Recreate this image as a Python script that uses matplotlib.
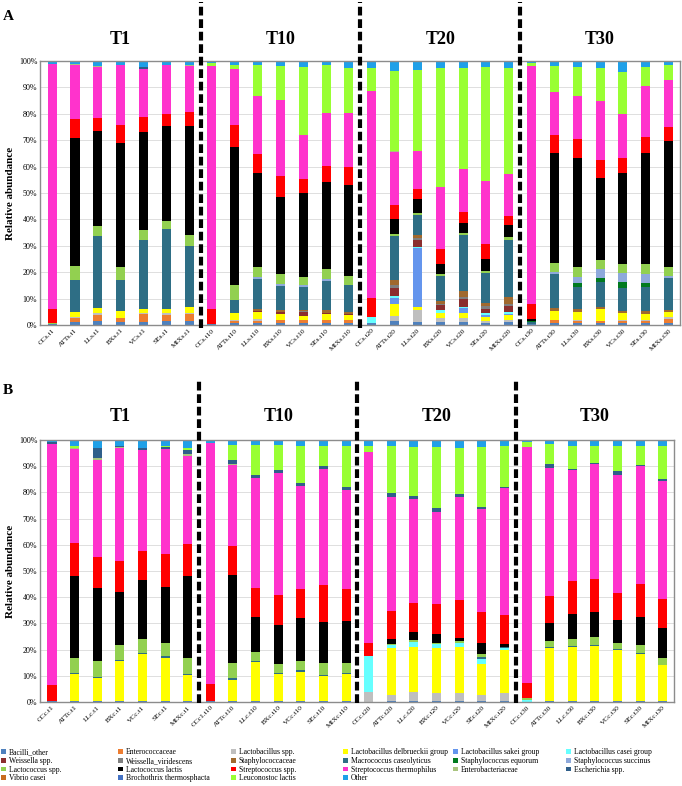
"""
stacked bar charts of relative abundance of bacterial taxa
panel A and panel B, four sampling times each (T1, T10, T20, T30)
"""

import numpy as np
import matplotlib.pyplot as plt
from matplotlib.patches import Patch
import matplotlib.transforms as mtransforms

plt.rcParams["font.family"] = ["Liberation Serif", "DejaVu Serif"]

samples = ["CC", "ATT", "LL", "BX", "VC", "SE", "MIX"]
times = ["t1", "t10", "t20", "t30"]
time_titles = ["T1", "T10", "T20", "T30"]
labels_a = [s + "s." + t for t in times for s in samples]
labels_b = [s + "c." + t for t in times for s in samples]
labels_b[7] = "CCc1.t10"

taxa = ["Bacilli_other", "Enterococcaceae", "Lactobacillus spp.",
        "Lactobacillus delbrueckii group", "Lactobacillus sakei group",
        "Lactobacillus casei group", "Weissella spp.", "Weissella_viridescens",
        "Staphylococcaceae", "Macrococcus caseolyticus", "Staphylococcus equorum",
        "Staphylococcus succinus", "Lactococcus spp.", "Lactococcus lactis",
        "Streptococcus spp.", "Streptococcus thermophilus", "Enterobacteriaceae",
        "Escherichia spp.", "Vibrio casei", "Brochothrix thermosphacta",
        "Leuconostoc lactis", "Other"]

colors = ["#4F81BD", "#ED7D31", "#BFBFBF", "#FFFF00", "#6495ED", "#66FFFF",
          "#8B2E2E", "#7F7F7F", "#A0692E", "#2E6E85", "#007A1F", "#8EA9DB",
          "#92D050", "#000000", "#FF0000", "#FF33CC", "#A9C47F", "#2F5F8A",
          "#C86B1E", "#4472C4", "#99FF33", "#1FA0E8"]

# panel A (% per sample, 28 samples: T1 x7, T10 x7, T20 x7, T30 x7)
a_bacilli = [0.3, 1.0, 1.5, 1.0, 1.3, 1.5, 1.6, 0.3, 0.6, 0.8, 0.8, 0.8, 0.8, 0.8,
             0.8, 1.5, 1.1, 1.0, 1.1, 0.8, 1.1, 0.4, 0.8, 0.7, 0.8, 0.8, 0.8, 0.8]
a_entero = [0, 1.7, 2.3, 1.5, 2.7, 2.4, 2.6, 0, 0.9, 0.7, 1.0, 1.0, 1.0, 1.0,
            0, 0, 0, 0, 0, 0, 0, 0, 1.0, 0.8, 0.8, 0.8, 0.9, 1.5]
a_lbspp = [0, 0.3, 0.6, 0.3, 0.4, 0.5, 0.2, 0, 0.3, 0.7, 0.2, 0.2, 0.2, 0.2,
           0, 2.0, 4.6, 1.8, 1.7, 0.7, 0.9, 0, 0.2, 0.5, 0, 0.4, 0.3, 0.7]
a_delb = [0, 1.8, 2.1, 2.5, 1.7, 1.8, 2.4, 0, 2.6, 2.6, 2.0, 1.5, 2.0, 1.8,
          0, 4.6, 1.1, 1.6, 1.6, 1.7, 1.8, 0, 3.2, 3.0, 4.5, 2.4, 2.3, 1.8]
a_sakei = [0, 0, 0, 0, 0, 0, 0, 0, 0, 0, 0, 0, 0, 0,
           0, 2.0, 22.2, 0.3, 2.2, 0.5, 0.4, 0, 0, 0, 0, 0, 0, 0]
a_casei = [0, 0, 0, 0, 0, 0, 0, 0, 0, 0, 0, 0, 0, 0,
           2.4, 0.9, 0.6, 1.0, 0.4, 0.8, 0.7, 0, 0, 0, 0, 0, 0, 0]
a_weissella = [0, 0, 0, 0, 0, 0, 0, 0, 0, 0.4, 1.0, 1.3, 0.5, 0.5,
               0, 3.1, 2.5, 1.7, 2.8, 1.6, 2.2, 0, 0, 0, 0, 0, 0, 0]
a_weis_vir = [0, 0, 0, 0, 0, 0, 0, 0, 0, 0, 0, 0.4, 0, 0,
              0, 0.9, 0.9, 0.7, 0.9, 1.2, 1.0, 0, 0, 0, 0, 0, 0, 0]
a_staph = [0, 0, 0, 0, 0, 0, 0, 0, 0, 0.8, 0.6, 0.3, 1.0, 0.7,
           0, 2.0, 1.2, 1.0, 2.2, 1.0, 2.4, 0, 1.3, 1.1, 0.9, 0.8, 0.9, 1.0]
a_macro = [0, 12.2, 27.4, 11.8, 26.1, 30.3, 23.2, 0, 5.2, 11.5, 9.3, 8.9, 11.3, 10.2,
           0, 16.8, 7.5, 9.3, 21.2, 11.3, 21.8, 0.8, 12.8, 8.4, 9.4, 8.8, 9.2, 11.9]
a_equorum = [0, 0, 0, 0, 0, 0, 0, 0, 0, 0, 0, 0, 0, 0,
             0, 0, 0, 0, 0, 0, 0, 0.5, 0, 1.4, 1.3, 2.3, 1.6, 0]
a_succinus = [0, 0, 0, 0, 0, 0, 0, 0, 0, 0.7, 0.6, 0.6, 0.7, 0,
              0, 0, 0, 0, 0, 0, 0, 0, 0.7, 2.4, 3.6, 3.5, 3.3, 0.7]
a_lcspp = [0.4, 5.3, 3.5, 5.0, 3.6, 3.0, 4.1, 0.2, 5.6, 3.6, 3.8, 3.1, 3.7, 3.5,
           0, 0.6, 0.6, 0.8, 0.7, 0.7, 0.9, 0, 3.6, 3.5, 3.4, 3.2, 3.7, 3.7]
a_lactis = [0, 48.4, 36.2, 46.8, 37.2, 36.0, 41.3, 0, 52.4, 35.9, 29.3, 32.0, 32.8, 34.3,
            0, 5.8, 5.3, 3.9, 3.8, 4.8, 4.6, 0.4, 41.4, 41.5, 31.1, 34.7, 42.3, 47.5]
a_strep = [5.3, 7.2, 4.8, 6.8, 5.6, 4.4, 5.2, 5.7, 8.3, 7.2, 8.0, 5.3, 6.2, 7.0,
           6.9, 5.1, 3.8, 5.7, 4.1, 5.7, 3.5, 5.9, 6.8, 7.0, 6.7, 5.7, 6.0, 5.5]
a_thermo = [93.0, 20.6, 19.2, 22.6, 18.2, 18.5, 17.6, 92.0, 21.1, 22.0, 28.8, 16.7, 20.1, 20.4,
            78.4, 20.1, 14.5, 23.6, 16.3, 23.7, 15.8, 90.2, 16.6, 16.6, 22.5, 16.6, 19.2, 17.7]
a_enterob = [0, 0.5, 0.6, 0.3, 0, 0, 0.4, 0, 0, 0, 0, 0, 0, 0,
             0, 0.4, 0, 0, 0, 0, 0, 0, 0, 0, 0, 0, 0, 0]
a_escher = [0, 0, 0, 0, 0.8, 0, 0, 0, 0, 0, 0, 0, 0, 0,
            0, 0, 0, 0, 0, 0, 0, 0, 0, 0, 0, 0, 0, 0]
a_vibrio = [0, 0, 0, 0, 0, 0, 0, 0, 0, 0, 0, 0, 0, 0,
            0, 0, 0, 0, 0, 0, 0, 0, 0, 0, 0, 0, 0, 0]
a_broch = [0, 0, 0, 0, 0, 0, 0, 0, 0, 0, 0, 0, 0, 0,
           0, 0, 0, 0, 0, 0, 0, 0, 0, 0, 0, 0, 0, 0]
a_leuc = [0, 0, 0, 0, 0, 0, 0, 1.0, 1.4, 11.6, 12.8, 25.5, 18.0, 17.1,
          9.0, 30.3, 30.6, 44.8, 38.4, 43.1, 40.4, 1.1, 9.6, 10.8, 12.2, 15.8, 7.2, 5.6]
a_other = [1.0, 1.0, 1.8, 1.4, 2.4, 1.6, 1.4, 0.8, 1.6, 1.5, 1.8, 2.4, 1.7, 2.5,
           2.5, 3.9, 3.5, 2.8, 2.6, 2.4, 2.5, 0.7, 2.0, 2.3, 2.8, 4.2, 2.3, 1.6]

# panel B
b_bacilli = [0.4, 0.5, 0.5, 0.5, 0.5, 0.5, 0.5, 0.4, 0.5, 0.5, 0.5, 0.5, 0.5, 0.5,
             0, 0.4, 0.5, 0.5, 0.5, 0.5, 0.3, 0, 0.5, 0.5, 0.5, 0.5, 0.3, 0.5]
b_entero = [0, 0, 0, 0, 0, 0, 0, 0, 0, 0, 0, 0, 0, 0,
            0, 0, 0, 0, 0, 0, 0, 0, 0, 0, 0, 0, 0, 0]
b_lbspp = [0, 0, 0, 0, 0, 0, 0, 0, 0, 0, 0, 0, 0, 0,
           3.7, 2.1, 3.3, 2.8, 3.1, 2.1, 3.3, 0, 0, 0, 0, 0, 0, 0]
b_delb = [0, 10.1, 8.7, 15.3, 17.8, 16.4, 9.7, 0, 8.0, 14.8, 10.1, 11.0, 9.4, 10.1,
          0, 18.0, 17.1, 17.3, 17.3, 12.0, 16.1, 0, 20.1, 20.5, 21.0, 19.2, 18.2, 13.5]
b_sakei = [0, 0, 0, 0, 0, 0, 0, 0, 0, 0, 0, 0, 0, 0,
           0, 0, 0, 0, 0, 0, 0, 0, 0, 0, 0, 0, 0, 0]
b_casei = [0, 0, 0, 0, 0, 0, 0, 0, 0, 0, 0, 0, 0, 0,
           13.9, 1.2, 1.9, 1.4, 1.6, 2.0, 0.9, 0.6, 0, 0, 0, 0, 0, 0]
b_weissella = [0, 0, 0, 0, 0, 0, 0, 0, 0, 0, 0, 0, 0, 0,
               0, 0, 0, 0, 0, 0, 0, 0, 0, 0, 0, 0, 0, 0]
b_weis_vir = [0, 0, 0, 0, 0, 0, 0, 0, 0, 0, 0, 0, 0, 0,
              0, 0, 0, 0, 0, 0, 0, 0, 0, 0, 0, 0, 0, 0]
b_staph = [0, 0, 0, 0, 0, 0, 0, 0, 0, 0, 0, 0, 0, 0,
           0, 0, 0, 0, 0, 0, 0, 0, 0, 0, 0, 0, 0, 0]
b_macro = [0, 0.4, 0.5, 0.4, 0.4, 0.5, 0.4, 0, 0.5, 0.3, 0.4, 0.6, 0.3, 0.5,
           0, 0, 0, 0, 0, 0.5, 0.5, 0, 0.4, 0.3, 0.4, 0.4, 0.3, 0.3]
b_equorum = [0, 0, 0, 0, 0, 0, 0, 0, 0, 0, 0, 0, 0, 0,
             0, 0, 0, 0, 0, 0, 0, 0, 0, 0, 0, 0, 0, 0]
b_succinus = [0, 0, 0, 0, 0, 0, 0, 0, 0, 0, 0, 0, 0, 0,
              0, 0, 0, 0, 0, 0, 0, 0, 0, 0, 0, 0, 0, 0]
b_lcspp = [0, 5.8, 5.8, 5.5, 5.4, 5.1, 6.2, 0, 6.0, 3.5, 3.6, 3.6, 4.7, 3.8,
           0, 0.5, 0.8, 0.6, 0.6, 1.3, 0, 0.9, 2.3, 2.8, 2.8, 2.6, 3.1, 2.4]
b_lactis = [0, 31.4, 27.9, 20.3, 22.4, 21.4, 31.4, 0, 33.4, 13.5, 14.7, 16.5, 15.8, 16.2,
            0, 2.0, 3.2, 3.2, 1.2, 4.0, 1.2, 0, 6.9, 9.5, 9.7, 8.5, 10.5, 11.7]
b_strep = [6.0, 12.6, 11.8, 11.9, 11.3, 12.4, 12.2, 6.4, 11.1, 11.1, 11.7, 11.1, 14.1, 12.2,
           4.9, 10.6, 10.8, 11.5, 14.8, 11.9, 10.8, 5.9, 10.4, 12.6, 12.4, 10.5, 12.8, 11.1]
b_thermo = [92.2, 35.6, 37.0, 43.0, 38.5, 40.4, 33.5, 92.2, 30.8, 41.8, 46.3, 39.2, 44.0, 37.8,
            72.9, 43.5, 39.9, 35.3, 39.2, 39.2, 48.4, 89.8, 48.8, 42.3, 44.0, 44.9, 45.0, 44.8]
b_enterob = [0, 0.6, 0.8, 0.4, 0, 0, 0.7, 0, 0.4, 0, 0, 0, 0, 0,
             0, 0, 0, 0, 0, 0, 0, 0, 0, 0, 0, 0, 0, 0]
b_escher = [0.7, 0, 3.9, 0.5, 0.8, 0.5, 1.6, 0, 1.5, 1.3, 1.4, 1.1, 1.1, 1.1,
            0, 1.3, 1.0, 1.3, 0.9, 1.1, 0.7, 0, 1.4, 0.4, 0.3, 1.5, 0.3, 0.8]
b_vibrio = [0, 0, 0, 0, 0, 0, 0, 0, 0, 0, 0, 0, 0, 0,
            0, 0, 0, 0, 0, 0, 0, 0, 0, 0, 0, 0, 0, 0]
b_broch = [0, 0, 0, 0, 0, 0, 0, 0, 0, 0, 0, 0, 0, 0,
           0, 0, 0, 0, 0, 0, 0, 0, 0, 0, 0, 0, 0, 0]
b_leuc = [0, 0.7, 0, 0, 0, 0.5, 0.8, 0, 5.8, 11.2, 9.4, 14.1, 7.9, 15.6,
          2.3, 18.1, 18.7, 23.3, 17.9, 22.7, 15.5, 1.9, 7.5, 8.7, 6.7, 9.5, 7.2, 12.5]
b_other = [0.7, 2.3, 3.1, 2.2, 2.9, 2.3, 3.0, 1.0, 2.0, 2.0, 1.9, 2.3, 2.2, 2.2,
           2.3, 2.3, 2.8, 2.8, 2.9, 2.7, 2.3, 0.9, 1.7, 2.4, 2.2, 2.4, 2.3, 2.4]

series_a = [a_bacilli, a_entero, a_lbspp, a_delb, a_sakei, a_casei, a_weissella,
            a_weis_vir, a_staph, a_macro, a_equorum, a_succinus, a_lcspp, a_lactis,
            a_strep, a_thermo, a_enterob, a_escher, a_vibrio, a_broch, a_leuc, a_other]
series_b = [b_bacilli, b_entero, b_lbspp, b_delb, b_sakei, b_casei, b_weissella,
            b_weis_vir, b_staph, b_macro, b_equorum, b_succinus, b_lcspp, b_lactis,
            b_strep, b_thermo, b_enterob, b_escher, b_vibrio, b_broch, b_leuc, b_other]


def draw_panel(ax, series, xlabels, dash_top, dash_bottom, title_y):
    x = np.arange(len(xlabels))
    bottom = np.zeros(len(xlabels))
    for vals, col in zip(series, colors):
        vals = np.array(vals, dtype=float)
        ax.bar(x, vals, 0.4, bottom=bottom, color=col, linewidth=0, zorder=2)
        bottom += vals

    ax.set_xlim(-0.53, 27.5)
    ax.set_ylim(0, 100)
    ax.set_yticks(range(0, 101, 10))
    ax.set_yticklabels([str(v) + "%" for v in range(0, 101, 10)], fontsize=5.8)
    ax.set_xticks(x)
    ax.set_xticklabels(xlabels, rotation=45, ha="right", rotation_mode="anchor",
                       fontsize=5.3)
    ax.tick_params(length=0, pad=2)
    ax.grid(axis="y", color="#D9D9D9", linewidth=0.6, zorder=0)
    ax.set_axisbelow(True)
    for sp in ax.spines.values():
        sp.set_color("#8C8C8C")
        sp.set_linewidth(1.0)
    ax.set_ylabel("Relative abundance", fontsize=8, fontweight="bold", labelpad=3)

    trans = mtransforms.blended_transform_factory(ax.transData, ax.transAxes)
    for xd in [6.5, 13.5, 20.5]:
        ln, = ax.plot([xd, xd], [dash_bottom, dash_top], transform=trans,
                      color="black", linewidth=3, clip_on=False, zorder=5)
        ln.set_dashes((2.1, 0.9))
    for i, t in enumerate(time_titles):
        ax.text(i * 7 + 3, title_y, t, transform=trans, ha="center", va="center",
                fontsize=13, fontweight="bold")


fig = plt.figure(figsize=(6.82, 7.86), dpi=100)
W, H = 682.0, 786.0
ax_a = fig.add_axes([40 / W, 1 - 325 / H, 640 / W, 264 / H])
ax_b = fig.add_axes([40 / W, 1 - 702 / H, 634 / W, 262 / H])

draw_panel(ax_a, series_a, labels_a, 1.225, -0.011, 1.08)
draw_panel(ax_b, series_b, labels_b, 1.229, -0.004, 1.088)

fig.text(8 / W, 1 - 17 / H, "A", fontsize=11, fontweight="bold", va="center", ha="center")
fig.text(8 / W, 1 - 390 / H, "B", fontsize=11, fontweight="bold", va="center", ha="center")

# legend: 6 columns, filled row by row
col_x = [1, 118, 231, 343, 453, 566]
for j in range(6):
    idx = list(range(j, len(taxa), 6))
    handles = [Patch(facecolor=colors[i], edgecolor="none") for i in idx]
    fig.legend(handles, [taxa[i] for i in idx], loc="upper left",
               bbox_to_anchor=(col_x[j] / W, 1 - 748.5 / H), frameon=False,
               fontsize=5.5, handlelength=0.6, handleheight=0.6,
               handletextpad=0.4, labelspacing=0.08, borderpad=0,
               borderaxespad=0)

fig.savefig("out.png", dpi=100)
